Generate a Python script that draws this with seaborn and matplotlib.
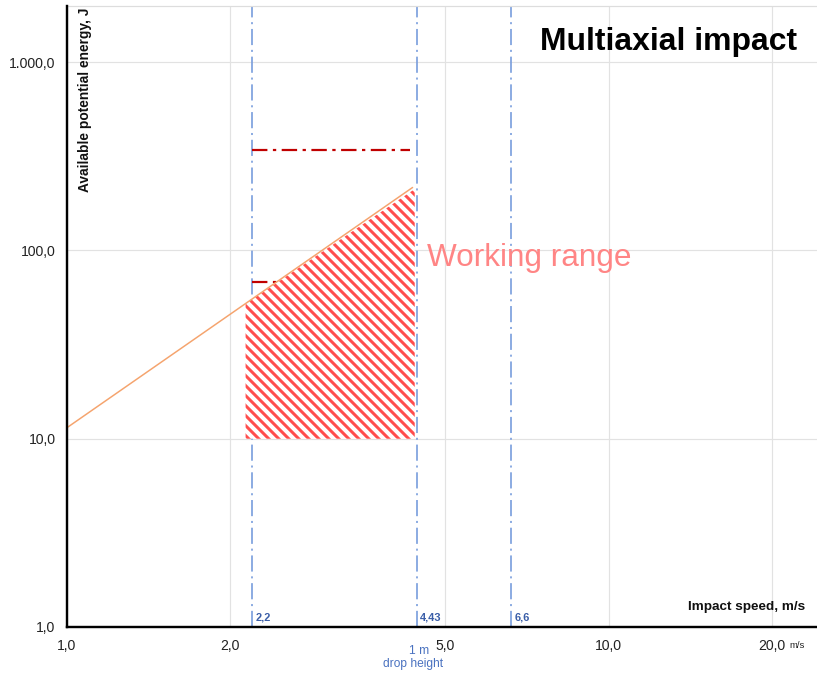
import numpy as np
import pandas as pd
import matplotlib
matplotlib.use("Agg")
import matplotlib.pyplot as plt
from matplotlib.ticker import NullLocator
import seaborn as sns

# ---------------- data ----------------
line_speed = [1.0, 4.35]            # m/s
line_energy = [11.4, 216.0]         # J

work_speed = [2.14, 4.39]
work_top = [52.0, 212.0]
work_bottom = 10.0

marker_speeds = [2.2, 4.43, 6.6]
marker_labels = ["2,2", "4,43", "6,6"]

level_energies = [343.0, 68.0]
level_speed_from = 2.2
level_speed_to = 4.3

x_ticks = [1, 2, 5, 10, 20]
x_ticklabels = ["1,0", "2,0", "5,0", "10,0", "20,0"]
y_ticks = [1, 10, 100, 1000]
y_ticklabels = ["1,0", "10,0", "100,0", "1.000,0"]

# ---------------- style ----------------
DPI = 120
W, H = 817, 673
def pt(px):
    return px * 72.0 / DPI

sns.set_theme(style="white")
plt.rcParams["font.family"] = ["Liberation Sans", "DejaVu Sans"]
plt.rcParams["hatch.linewidth"] = pt(3.0)

fig = plt.figure(figsize=(W / DPI, H / DPI), dpi=DPI)
ax = fig.add_axes([66.5 / W, (H - 627) / H, (W - 66.5) / W, (627 - 5.5) / H])
ax.set_xscale("log")
ax.set_yscale("log")

df = pd.DataFrame({"speed": line_speed, "energy": line_energy})

# vertical reference lines
for v in marker_speeds:
    ax.axvline(v, color="#7b9fdd", lw=pt(1.7), linestyle=(0, (9.5, 2.8, 1.2, 2.8)), zorder=2)

# red levels
ax.hlines(level_energies, level_speed_from, level_speed_to, colors="#c00000",
          lw=pt(2.2), linestyles=[(0, (7, 2.5, 1.5, 2.5))], zorder=3)

# working range hatch
ax.fill_between(work_speed, work_bottom, work_top, facecolor="white",
                edgecolor="#ff4d4d", hatch="\\\\\\\\", linewidth=0, zorder=4)

sns.lineplot(data=df, x="speed", y="energy", ax=ax, color="#f5a46e",
             lw=pt(1.5), zorder=5)

ax.set_xlim(1, 10 ** ((W - 66.5) / 542.0))
ax.set_ylim(1, 2000)

ax.set_xticks(x_ticks)
ax.set_xticklabels(x_ticklabels)
ax.set_yticks(y_ticks)
ax.set_yticklabels(y_ticklabels)
ax.xaxis.set_minor_locator(NullLocator())
ax.yaxis.set_minor_locator(NullLocator())
ax.tick_params(axis="both", length=0, labelsize=pt(14), labelcolor="#222222")
ax.tick_params(axis="x", pad=pt(11.5))
ax.tick_params(axis="y", pad=pt(11))

ax.grid(True, which="major", color="#e2e2e2", lw=pt(1.2))
ax.set_axisbelow(True)

for s in ["left", "bottom"]:
    ax.spines[s].set_color("black")
    ax.spines[s].set_linewidth(pt(2.4))
    ax.spines[s].set_zorder(6)
ax.spines["top"].set_color("#dddddd")
ax.spines["top"].set_linewidth(pt(1.2))
ax.spines["right"].set_visible(False)

ax.set_xlabel("")
ax.set_ylabel("")

# axis titles inside the plot
ax.text((805 - 66.5) / (W - 66.5), (627 - 607) / (627 - 5.5), "Impact speed, m/s",
        transform=ax.transAxes, ha="right", va="center", fontsize=pt(13.5),
        fontweight="bold", color="#111111", zorder=7)
ax.text((84.5 - 66.5) / (W - 66.5), 0.997, "Available potential energy, J",
        transform=ax.transAxes, ha="center", va="top", rotation=90,
        fontsize=pt(13.8), fontweight="bold", color="#111111", zorder=7)

# title
ax.text((797 - 66.5) / (W - 66.5), (627 - 42) / (627 - 5.5), "Multiaxial impact",
        transform=ax.transAxes, ha="right", va="center", fontsize=pt(31.9),
        fontweight="bold", color="black", zorder=7)

# working range label
ax.text(4.63, 90.7, "Working range", ha="left", va="center", fontsize=pt(31.5),
        color="#ff8585", zorder=7)

# marker labels
xt = ax.get_xaxis_transform()
for v, lab in zip(marker_speeds, marker_labels):
    ax.annotate(lab, xy=(v, 0), xycoords=xt, xytext=(pt(3.5), pt(9.5)),
                textcoords="offset points", ha="left", va="center",
                fontsize=pt(11), fontweight="bold", color="#3a5ea8", zorder=7)

ax.annotate("1 m", xy=(4.43, 0), xycoords=xt, xytext=(pt(2), -pt(24.5)),
            textcoords="offset points", ha="center", va="center",
            fontsize=pt(12), color="#4a72c0", annotation_clip=False)
ax.annotate("drop height", xy=(4.43, 0), xycoords=xt, xytext=(-pt(4), -pt(37.5)),
            textcoords="offset points", ha="center", va="center",
            fontsize=pt(12), color="#4a72c0", annotation_clip=False)

ax.annotate("m/s", xy=(20, 0), xycoords=xt, xytext=(pt(18), -pt(18.5)),
            textcoords="offset points", ha="left", va="center",
            fontsize=pt(9.5), color="#222222", annotation_clip=False)

fig.savefig("out.png", dpi=DPI)
